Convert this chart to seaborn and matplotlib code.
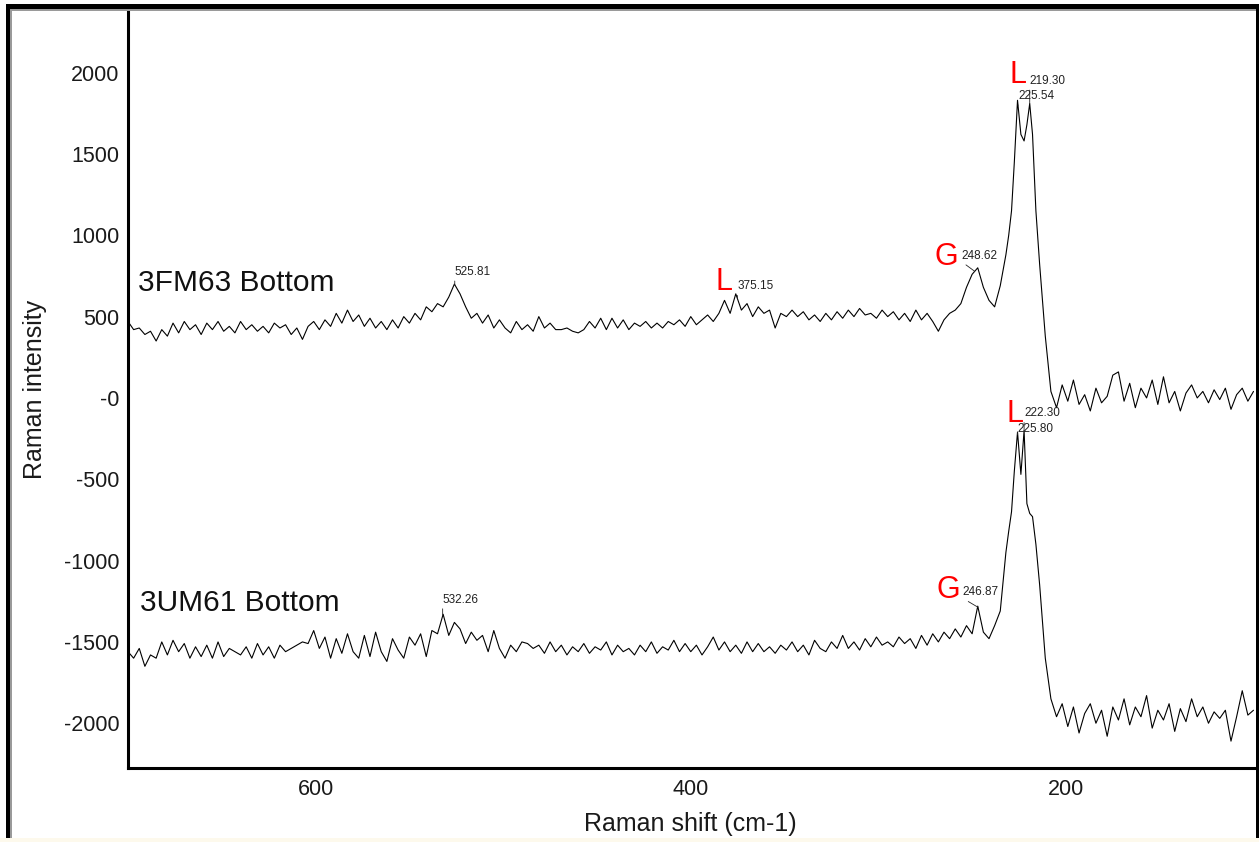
import numpy as np
import pandas as pd
import matplotlib
matplotlib.use("Agg")
import matplotlib.pyplot as plt
from matplotlib.patches import Rectangle
import seaborn as sns

# ---------------- data ----------------
shift = [
    700, 697, 694, 691, 688, 685, 682, 679, 676, 673,
    670, 667, 664, 661, 658, 655, 652, 649, 646, 643,
    640, 637, 634, 631, 628, 625, 622, 619, 616, 613,
    610, 607, 604, 601, 598, 595, 592, 589, 586, 583,
    580, 577, 574, 571, 568, 565, 562, 559, 556, 553,
    550, 547, 544, 541, 538, 535, 532, 529, 526, 523,
    520, 517, 514, 511, 508, 505, 502, 499, 496, 493,
    490, 487, 484, 481, 478, 475, 472, 469, 466, 463,
    460, 457, 454, 451, 448, 445, 442, 439, 436, 433,
    430, 427, 424, 421, 418, 415, 412, 409, 406, 403,
    400, 397, 394, 391, 388, 385, 382, 379, 376, 373,
    370, 367, 364, 361, 358, 355, 352, 349, 346, 343,
    340, 337, 334, 331, 328, 325, 322, 319, 316, 313,
    310, 307, 304, 301, 298, 295, 292, 289, 286, 283,
    280, 277, 274, 271, 268, 265, 262, 259, 256, 253,
    250, 247, 244, 241, 238, 235, 232,
    230.5, 229, 227.5, 225.8, 224, 222.3, 220.8, 219.3, 217.8, 216,
    214, 211, 208, 205, 202, 199, 196, 193, 190, 187,
    184, 181, 178, 175, 172, 169, 166, 163, 160, 157,
    154, 151, 148, 145, 142, 139, 136, 133, 130, 127,
    124, 121, 118, 115, 112, 109, 106, 103, 100,
]

intensity_3fm63 = [
    470, 420, 430, 390, 410, 350, 420, 380, 460, 400,
    470, 420, 450, 390, 460, 420, 470, 410, 440, 400,
    470, 420, 450, 410, 440, 400, 460, 430, 450, 390,
    430, 360, 440, 470, 420, 480, 440, 520, 460, 540,
    470, 510, 440, 490, 430, 470, 420, 480, 430, 500,
    460, 520, 480, 560, 530, 580, 560, 620, 700, 640,
    560, 490, 520, 460, 510, 430, 480, 430, 400, 470,
    420, 450, 410, 500, 430, 460, 420, 420, 430, 410,
    400, 420, 470, 430, 490, 420, 490, 430, 480, 420,
    460, 440, 470, 430, 460, 430, 470, 450, 480, 440,
    500, 450, 480, 510, 470, 520, 600, 520, 640, 540,
    580, 500, 560, 520, 540, 430, 520, 500, 540, 500,
    530, 480, 510, 470, 520, 480, 530, 490, 540, 500,
    550, 510, 520, 490, 540, 500, 530, 480, 520, 470,
    540, 480, 520, 470, 410, 480, 520, 540, 580, 680,
    760, 800, 680, 600, 560, 690, 880,
    1000, 1150, 1450, 1830, 1620, 1580, 1680, 1810, 1620, 1150,
    820, 380, 40, -60, 80, -20, 110, -40, 20, -80,
    60, -30, 10, 140, 160, -20, 90, -60, 60, 0,
    110, -40, 130, -30, 40, -80, 30, 80, 0, 40,
    -30, 50, -10, 60, -70, 20, 60, -20, 40,
]

intensity_3um61 = [
    -1560, -1600, -1540, -1650, -1580, -1600, -1500, -1580, -1490, -1560,
    -1510, -1600, -1530, -1590, -1520, -1600, -1500, -1590, -1540, -1560,
    -1580, -1530, -1600, -1510, -1580, -1530, -1600, -1520, -1560, -1540,
    -1520, -1500, -1510, -1430, -1540, -1470, -1600, -1480, -1570, -1450,
    -1560, -1600, -1460, -1590, -1440, -1560, -1620, -1480, -1550, -1600,
    -1470, -1520, -1450, -1590, -1430, -1450, -1330, -1460, -1380, -1420,
    -1510, -1440, -1490, -1460, -1560, -1430, -1540, -1600, -1520, -1560,
    -1500, -1510, -1540, -1520, -1570, -1500, -1560, -1520, -1580, -1530,
    -1560, -1510, -1570, -1530, -1550, -1500, -1580, -1520, -1560, -1540,
    -1580, -1520, -1560, -1500, -1570, -1530, -1550, -1490, -1560, -1510,
    -1560, -1520, -1580, -1530, -1470, -1550, -1500, -1560, -1520, -1570,
    -1500, -1560, -1510, -1560, -1530, -1570, -1520, -1550, -1500, -1560,
    -1520, -1580, -1490, -1540, -1560, -1500, -1540, -1460, -1540, -1500,
    -1550, -1480, -1530, -1470, -1520, -1500, -1530, -1470, -1510, -1480,
    -1540, -1460, -1520, -1450, -1500, -1440, -1480, -1420, -1470, -1400,
    -1450, -1280, -1440, -1480, -1400, -1310, -950,
    -820, -700, -450, -210, -470, -200, -650, -710, -730, -900,
    -1150, -1600, -1850, -1960, -1880, -2020, -1900, -2060, -1940, -1880,
    -2000, -1920, -2080, -1900, -1980, -1850, -2010, -1900, -1960, -1830,
    -2030, -1920, -1980, -1880, -2050, -1910, -1990, -1850, -1960, -1900,
    -2000, -1930, -1970, -1920, -2110, -1960, -1800, -1950, -1920,
]

sample_names = ["3FM63 Bottom", "3UM61 Bottom"]
peaks_3fm63 = ["525.81", "375.15", "248.62", "225.54", "219.30"]
peaks_3um61 = ["532.26", "246.87", "225.80", "222.30"]
mineral_marks = ["L", "G", "L", "L", "G"]

xticks = [600, 400, 200]
xtick_labels = ["600", "400", "200"]
yticks = [-2000, -1500, -1000, -500, 0, 500, 1000, 1500, 2000]
ytick_labels = ["-2000", "-1500", "-1000", "-500", "-0", "500", "1000", "1500", "2000"]

x_label = "Raman shift (cm-1)"
y_label = "Raman intensity"

# ---------------- style ----------------
sns.set_style("white")
plt.rcParams["font.family"] = ["Liberation Sans", "DejaVu Sans"]

W, H = 1259, 842
fig = plt.figure(figsize=(W / 100, H / 100), dpi=100)
fig.patch.set_facecolor("white")


def fx(px):
    return px / W


def fy(py):
    return 1 - py / H


ax = fig.add_axes([fx(128), fy(768.3), (1253.5 - 128) / W, (768.3 - 10) / H])
ax.set_facecolor("white")

df_top = pd.DataFrame({"shift": shift, "intensity": intensity_3fm63})
df_bot = pd.DataFrame({"shift": shift, "intensity": intensity_3um61})
sns.lineplot(data=df_top, x="shift", y="intensity", estimator=None, sort=False,
             color="black", lw=0.8, ax=ax, legend=False)
sns.lineplot(data=df_bot, x="shift", y="intensity", estimator=None, sort=False,
             color="black", lw=0.8, ax=ax, legend=False)

ax.set_xlim(700, 100)
ax.set_ylim(-2277, 2385)
ax.set_xticks(xticks)
ax.set_xticklabels(xtick_labels)
ax.set_yticks(yticks)
ax.set_yticklabels(ytick_labels)

for s in ["top", "right"]:
    ax.spines[s].set_visible(False)
for s in ["left", "bottom"]:
    ax.spines[s].set_linewidth(2.2)
    ax.spines[s].set_color("black")

ax.tick_params(axis="both", direction="out", length=3, width=0.8, color="#555555",
               labelsize=15.5, labelcolor="#1a1a1a", pad=3)
ax.tick_params(axis="x", pad=5)

ax.set_xlabel(x_label, fontsize=18, color="#1a1a1a", labelpad=8)
ax.set_ylabel(y_label, fontsize=18, color="#1a1a1a", labelpad=12)

# sample names
ax.text(694.8, 658, sample_names[0], fontsize=21.5, color="#111111", ha="left", va="baseline")
ax.text(693.8, -1310, sample_names[1], fontsize=21.5, color="#111111", ha="left", va="baseline")

# peak labels (offsets in points)
offsets_top = [(0, 5), (0, 4.5), (-9.5, 7), (0, 2.5), (0, 12)]
offsets_bot = [(0, 7.5), (-11, 6.5), (0, -2), (0, 8)]

xs = np.array(shift)[::-1]


def add_peaks(labels, values, offsets):
    vals = np.array(values)[::-1]
    for lab, (dx, dy) in zip(labels, offsets):
        px = float(lab)
        py = float(np.interp(px, xs, vals))
        ax.annotate(lab, xy=(px, py), xytext=(dx, dy), textcoords="offset points",
                    ha="left", va="bottom", fontsize=8.5, color="#222222",
                    arrowprops=dict(arrowstyle="-", color="#222222", lw=0.6,
                                    shrinkA=0, shrinkB=0, relpos=(0, 0)))


add_peaks(peaks_3fm63, intensity_3fm63, offsets_top)
add_peaks(peaks_3um61, intensity_3um61, offsets_bot)

# red mineral marks
mark_pos = [(230.2, 1937), (270.2, 818), (386.9, 664), (231.8, -148), (269.1, -1230)]
for m, (mx, my) in zip(mineral_marks, mark_pos):
    ax.text(mx, my, m, color="#ff0000", fontsize=22, ha="left", va="baseline")

# window frame
frame = [
    ((fx(6), fy(9)), (W - 6) / W, 5 / H, "black"),
    ((fx(6), fy(838)), 4.5 / W, 834 / H, "black"),
    ((fx(1255.5), fy(838)), 3.5 / W, 834 / H, "black"),
    ((fx(10.5), fy(11)), (1255.5 - 10.5) / W, 2 / H, "#9a9a9a"),
    ((fx(10.5), fy(838)), 1.8 / W, (838 - 11) / H, "#9a9a9a"),
    ((0, 0), 1, 4 / H, "#fdf9ec"),
]
for (xy, w, h, c) in frame:
    fig.add_artist(Rectangle(xy, w, h, transform=fig.transFigure, color=c, lw=0, zorder=10))

fig.savefig("out.png", dpi=100)
